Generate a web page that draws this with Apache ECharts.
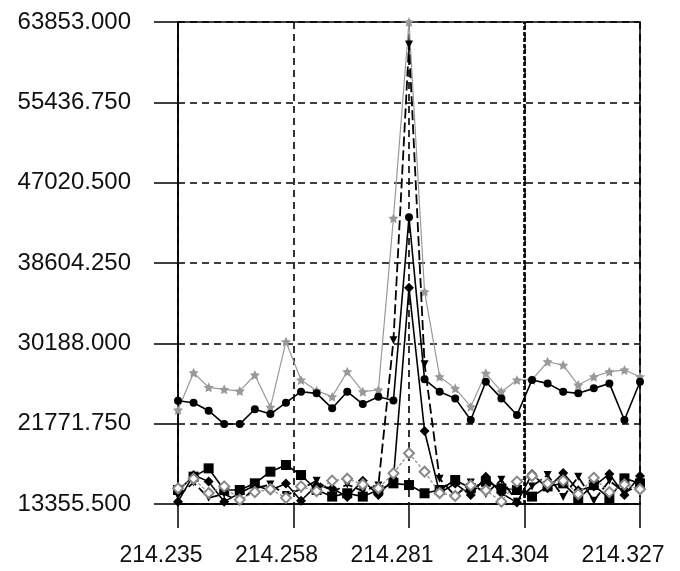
<!DOCTYPE html>
<html>
<head>
<meta charset="utf-8">
<script src="https://cdn.jsdelivr.net/npm/echarts@6/dist/echarts.min.js"></script>
<style>
  html, body { margin: 0; padding: 0; background: #fff; }
  #chart { width: 680px; height: 571px; }
</style>
</head>
<body>
<div id="chart"></div>
<script>
// ---- data ----
const xValues = [
  214.2350, 214.2381, 214.2411, 214.2442, 214.2473, 214.2503, 214.2534, 214.2565,
  214.2595, 214.2626, 214.2657, 214.2687, 214.2718, 214.2749, 214.2779, 214.2810,
  214.2841, 214.2871, 214.2902, 214.2933, 214.2963, 214.2994, 214.3025, 214.3055,
  214.3086, 214.3117, 214.3147, 214.3178, 214.3209, 214.3239, 214.3270
];
const grayStars = [
  23200, 27110, 25580, 25370, 25190, 26870, 23490, 30360, 26350, 25230, 24600,
  27210, 25120, 25300, 43290, 63853, 35600, 26690, 25470, 23550, 27050, 25120,
  26350, 26350, 28260, 27910, 25820, 26690, 27220, 27390, 26690
];
const blackCircles = [
  24180, 23970, 23130, 21730, 21730, 23280, 22780, 23970, 25120, 24950, 23380,
  25120, 23830, 24600, 24200, 43400, 26420, 25120, 24420, 22160, 26170, 24420,
  22680, 26350, 25990, 25120, 24950, 25470, 25990, 22160, 26170
];
const blackSquares = [
  14820, 16220, 17090, 14820, 14820, 15520, 16740, 17440, 16390, 14820, 14130,
  14480, 14130, 14820, 15520, 15340, 14480, 14820, 15870, 15000, 15690, 15000,
  14820, 14130, 15200, 15520, 13950, 15340, 13950, 16040, 15520
];
const blackDiamonds = [
  13600, 16390, 15700, 13600, 14500, 15300, 14800, 15500, 13700, 15300, 15000,
  14100, 15800, 14300, 16000, 36000, 21000, 14500, 15500, 14300, 16200, 14500,
  13500, 16500, 15000, 16600, 14800, 15200, 16500, 14300, 16300
];
const blackTriangles = [
  14200, 15600, 14000, 14400, 13600, 15000, 15400, 14300, 14900, 15800, 14600,
  15400, 14700, 15300, 30500, 61500, 28000, 16000, 14200, 15600, 14400, 15900,
  13600, 15200, 16400, 14100, 16200, 13700, 15800, 14600, 15300
];
const grayDiamonds = [
  15000, 16000, 14500, 15200, 13800, 14600, 14900, 14000, 15200, 14700, 15800,
  16000, 15400, 15000, 16565, 18665, 16740, 14500, 14200, 15300, 14800, 13600,
  15700, 16300, 15500, 15800, 14400, 16100, 14600, 15400, 14900
];
const yTickLabels = ['13355.500', '21771.750', '30188.000', '38604.250', '47020.500', '55436.750', '63853.000'];
const xTickLabels = ['214.235', '214.258', '214.281', '214.304', '214.327'];
const boldGridX = 214.304;
const yMin = 13355.5, yMax = 63853;
const xMin = 214.235, xMax = 214.327;

// ---- chart ----
const pair = (ys) => xValues.map((x, i) => [x, ys[i]]);
const starPath = 'path://M0,-10 L2.9,-4 9.5,-3.1 4.8,1.5 5.9,8.1 0,5 -5.9,8.1 -4.8,1.5 -9.5,-3.1 -2.9,-4Z';
const font = "'Liberation Sans', Arial, sans-serif";
const dash = { color: '#000', width: 1.6, type: [7, 5] };

const chart = echarts.init(document.getElementById('chart'), null, { renderer: 'canvas' });
chart.setOption({
  animation: false,
  backgroundColor: '#fff',
  grid: { left: 178, right: 40, top: 22, bottom: 67, show: true, borderColor: '#000', borderWidth: 1.5, backgroundColor: 'transparent' },
  xAxis: [
    { type: 'value', min: xMin, max: xMax, show: false },
    {
      type: 'value', min: 0, max: xTickLabels.length - 1, interval: 1, position: 'bottom',
      axisLine: { show: true, onZero: false, lineStyle: { color: '#000', width: 1.5 } },
      axisTick: { show: true, inside: false, length: 24, lineStyle: { color: '#000', width: 1.5 } },
      axisLabel: { margin: 40, color: '#111', fontFamily: font, fontSize: 23, padding: [0, 34, 0, 0],
        formatter: (v) => xTickLabels[Math.round(v)] },
      splitLine: { show: true, lineStyle: dash }
    }
  ],
  yAxis: [
    { type: 'value', min: yMin, max: yMax, show: false },
    {
      type: 'value', min: 0, max: yTickLabels.length - 1, interval: 1, position: 'left',
      axisLine: { show: true, onZero: false, lineStyle: { color: '#000', width: 1.5 } },
      axisTick: { show: true, inside: false, length: 24, lineStyle: { color: '#000', width: 1.5 } },
      axisLabel: { margin: 47, color: '#111', fontFamily: font, fontSize: 24,
        formatter: (v) => yTickLabels[Math.round(v)] },
      splitLine: { show: true, lineStyle: dash }
    }
  ],
  series: [
    { type: 'line', name: 'A', data: pair(grayStars), xAxisIndex: 0, yAxisIndex: 0,
      symbol: starPath, symbolSize: 10, itemStyle: { color: '#999' },
      lineStyle: { color: '#999', width: 1.2 }, z: 2 },
    { type: 'line', name: 'B', data: pair(blackCircles), xAxisIndex: 0, yAxisIndex: 0,
      symbol: 'circle', symbolSize: 8, itemStyle: { color: '#000' },
      lineStyle: { color: '#000', width: 1.6 }, z: 3,
      markLine: { silent: true, symbol: 'none', precision: 3, label: { show: false },
        lineStyle: { color: '#000', width: 2.6, type: [4, 2] },
        data: [{ xAxis: boldGridX }] } },
    { type: 'line', name: 'C', data: pair(blackTriangles), xAxisIndex: 0, yAxisIndex: 0,
      symbol: 'triangle', symbolRotate: 180, symbolSize: 8, itemStyle: { color: '#000' },
      lineStyle: { color: '#000', width: 1.8, type: [10, 4] }, z: 3 },
    { type: 'line', name: 'D', data: pair(blackSquares), xAxisIndex: 0, yAxisIndex: 0,
      symbol: 'rect', symbolSize: 10, itemStyle: { color: '#000' },
      lineStyle: { color: '#000', width: 1.6 }, z: 3 },
    { type: 'line', name: 'E', data: pair(blackDiamonds), xAxisIndex: 0, yAxisIndex: 0,
      symbol: 'diamond', symbolSize: 10, itemStyle: { color: '#000' },
      lineStyle: { color: '#000', width: 1.6 }, z: 3 },
    { type: 'line', name: 'F', data: pair(grayDiamonds), xAxisIndex: 0, yAxisIndex: 0,
      symbol: 'emptyDiamond', symbolSize: 10, itemStyle: { color: '#888', borderWidth: 1.5 },
      lineStyle: { color: '#888', width: 1.2, type: [3, 2] }, z: 4 }
  ]
});
</script>
</body>
</html>
